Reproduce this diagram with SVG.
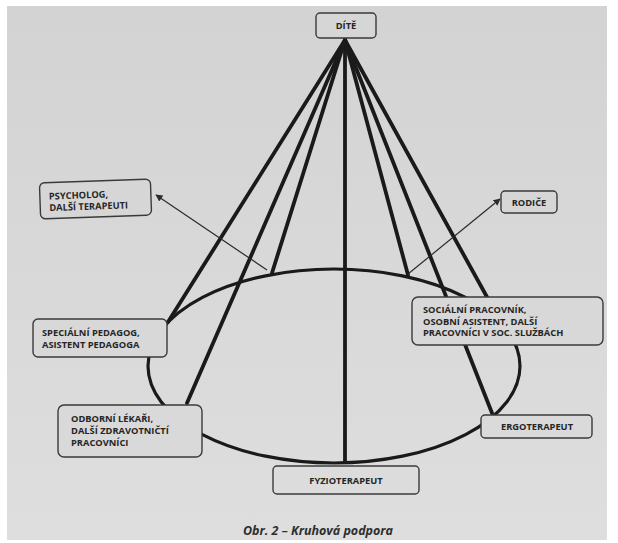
<svg xmlns="http://www.w3.org/2000/svg" width="618" height="543" viewBox="0 0 618 543">
<defs>
<style>
.box{fill:none;stroke:#3a3a3a;stroke-width:1.4}
.t{font-family:"Open Sans","Liberation Sans",sans-serif;font-weight:700;font-size:9.3px;fill:#262626}
.tc{text-anchor:middle}
.cone{stroke:#1a1a1a;stroke-width:3.8;stroke-linecap:round;fill:none}
.thin{stroke:#2a2a2a;stroke-width:1.2;fill:none;marker-end:url(#ah)}
.cap{font-family:"Open Sans","Liberation Sans",sans-serif;font-weight:700;font-style:italic;font-size:12.5px;fill:#2e2e2e}
</style>
<marker id="ah" viewBox="0 0 10 10" refX="9" refY="5" markerWidth="7" markerHeight="7" orient="auto" markerUnits="userSpaceOnUse">
<path d="M0,0 L10,5 L0,10 z" fill="#2a2a2a"/>
</marker>
<linearGradient id="bg" x1="0" y1="0" x2="0" y2="1">
<stop offset="0" stop-color="#d3d3d3"/>
<stop offset="1" stop-color="#dedede"/>
</linearGradient>
</defs>
<rect width="618" height="543" fill="#ffffff"/>
<rect x="7" y="6" width="600" height="534" fill="url(#bg)"/>
<g id="connectors">
<ellipse cx="334" cy="366" rx="186" ry="97" fill="none" stroke="#1a1a1a" stroke-width="3.2"/>
<line class="cone" x1="345" y1="40" x2="168" y2="322"/>
<line class="cone" x1="345" y1="40" x2="187" y2="403"/>
<line class="cone" x1="345" y1="40" x2="272" y2="273"/>
<line class="cone" x1="345" y1="40" x2="345" y2="462"/>
<line class="cone" x1="345" y1="40" x2="408" y2="275"/>
<line class="cone" x1="345" y1="40" x2="492" y2="413"/>
<line class="cone" x1="345" y1="40" x2="487" y2="297"/>
<line class="thin" x1="267" y1="270" x2="156" y2="195"/>
<line class="thin" x1="408" y1="274" x2="500" y2="199"/>
</g>
<g id="dite">
<rect class="box" x="316" y="13" width="60" height="25" rx="4" style="fill:#d6d6d6"/>
<text class="t tc" x="346" y="29">DÍTĚ</text>
</g>
<g id="psycholog">
<g transform="rotate(-2 95 199)">
<rect class="box" x="40" y="181" width="111" height="36" rx="5" style="fill:#d6d6d6"/>
<text class="t" x="49" y="198">PSYCHOLOG,</text>
<text class="t" x="49" y="209.5">DALŠÍ TERAPEUTI</text>
</g>
</g>
<g id="rodice">
<rect class="box" x="501" y="191" width="56" height="22" rx="4" style="fill:#d6d6d6"/>
<text class="t tc" x="529" y="205.5">RODIČE</text>
</g>
<g id="specialni">
<rect class="box" x="33" y="319" width="134" height="38" rx="5" style="fill:#d8d8d8"/>
<text class="t" x="42" y="336">SPECIÁLNÍ PEDAGOG,</text>
<text class="t" x="42" y="347.5">ASISTENT PEDAGOGA</text>
</g>
<g id="socialni">
<rect class="box" x="412" y="297" width="191" height="48" rx="6" style="fill:#d8d8d8"/>
<text class="t" x="423" y="313">SOCIÁLNÍ PRACOVNÍK,</text>
<text class="t" x="423" y="324.5">OSOBNÍ ASISTENT, DALŠÍ</text>
<text class="t" x="423" y="336">PRACOVNÍCI V SOC. SLUŽBÁCH</text>
</g>
<g id="odborni">
<rect class="box" x="58" y="405" width="144" height="52" rx="6" style="fill:#d9d9d9"/>
<text class="t" x="71" y="422">ODBORNÍ LÉKAŘI,</text>
<text class="t" x="71" y="434">DALŠÍ ZDRAVOTNIČTÍ</text>
<text class="t" x="71" y="446">PRACOVNÍCI</text>
</g>
<g id="fyzioterapeut">
<rect class="box" x="273" y="466" width="146" height="28" rx="4" style="fill:#dcdcdc"/>
<text class="t tc" x="346" y="484">FYZIOTERAPEUT</text>
</g>
<g id="ergoterapeut">
<rect class="box" x="481" y="415" width="111" height="23" rx="4" style="fill:#dadada"/>
<text class="t tc" x="537" y="430">ERGOTERAPEUT</text>
</g>
<text class="cap" x="318" y="535" text-anchor="middle">Obr. 2 – Kruhová podpora</text>
</svg>
